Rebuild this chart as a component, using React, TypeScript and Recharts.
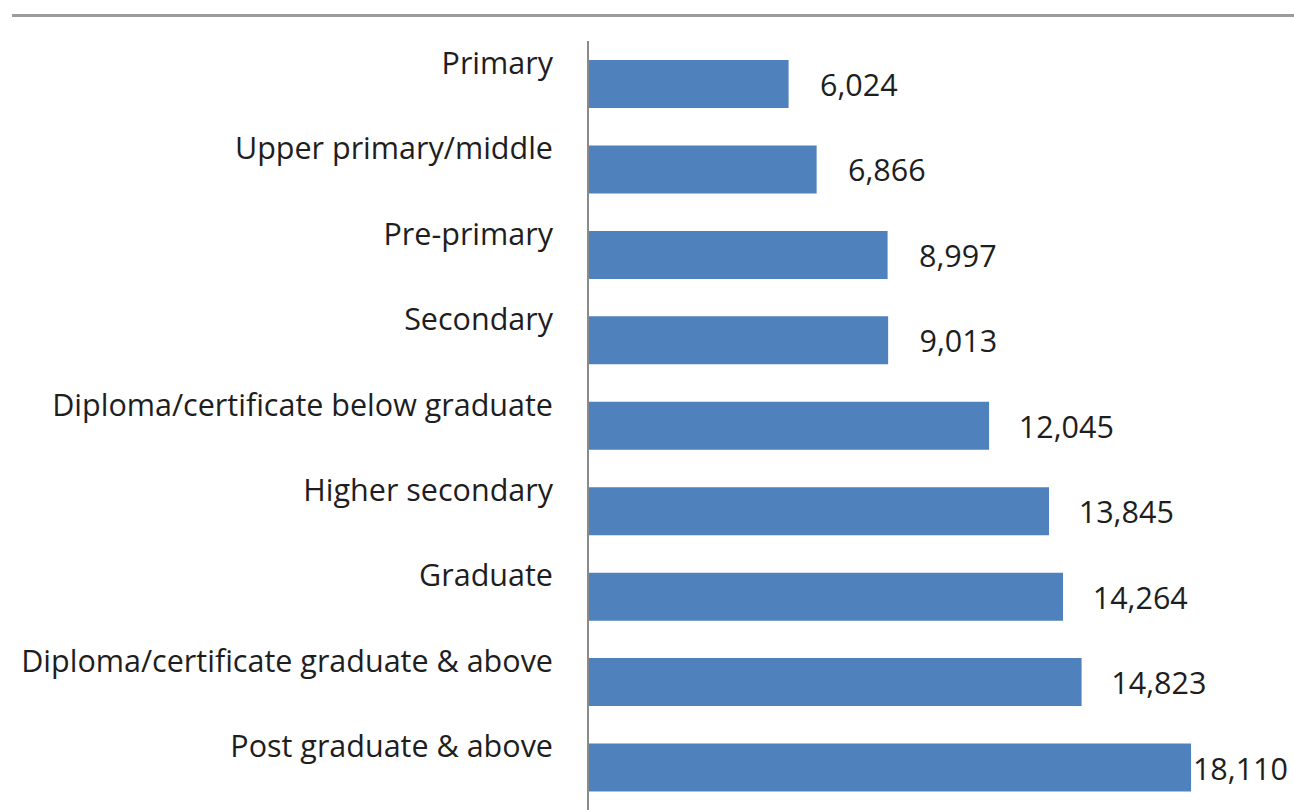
import React from "react";
import { Bar, BarChart, LabelList, XAxis, YAxis } from "recharts";

const levels = [
  "Primary",
  "Upper primary/middle",
  "Pre-primary",
  "Secondary",
  "Diploma/certificate below graduate",
  "Higher secondary",
  "Graduate",
  "Diploma/certificate graduate & above",
  "Post graduate & above",
];

const earnings = [6024, 6866, 8997, 9013, 12045, 13845, 14264, 14823, 18110];

const data = levels.map((level, i) => ({ level, value: earnings[i] }));

const FONT = "'Open Sans', sans-serif";
const FONT_SIZE = 30.5;
const CHART_W = 1294;
const CHART_H = 810;

function LevelTick(props: any) {
  const { x, y, payload } = props;
  return (
    <text
      x={x}
      y={y - 10}
      textAnchor="end"
      fontFamily={FONT}
      fontSize={FONT_SIZE}
      fill="#1e1e1e"
    >
      {payload.value}
    </text>
  );
}

function ValueLabel(props: any) {
  const { x, y, width, height, value } = props;
  const text = Number(value).toLocaleString("en-US");
  const approxW = text.length * 15.8;
  const end = Math.min(x + width + 30 + approxW, CHART_W - 6);
  return (
    <text
      x={end}
      y={y + height / 2 + 12}
      textAnchor="end"
      fontFamily={FONT}
      fontSize={FONT_SIZE}
      fill="#1e1e1e"
    >
      {text}
    </text>
  );
}

export default function App() {
  return (
    <div style={{ position: "absolute", left: 0, top: 0, width: CHART_W, height: CHART_H, background: "#fff" }}>
      <div
        style={{
          position: "absolute",
          left: 12,
          top: 14,
          width: CHART_W - 12,
          height: 3,
          background: "#9c9c9c",
        }}
      />
      <BarChart
        width={CHART_W}
        height={CHART_H}
        data={data}
        layout="vertical"
        margin={{ top: 41, right: 40, bottom: 0, left: 0 }}
      >
        <XAxis type="number" domain={[0, 20000]} hide />
        <YAxis
          type="category"
          dataKey="level"
          width={588}
          axisLine={{ stroke: "#8a8a8a", strokeWidth: 2 }}
          tickLine={false}
          tickSize={0}
          tickMargin={35}
          interval={0}
          tick={<LevelTick />}
        />
        <Bar dataKey="value" fill="#4f81bd" barSize={48} isAnimationActive={false}>
          <LabelList dataKey="value" content={<ValueLabel />} />
        </Bar>
      </BarChart>
    </div>
  );
}
